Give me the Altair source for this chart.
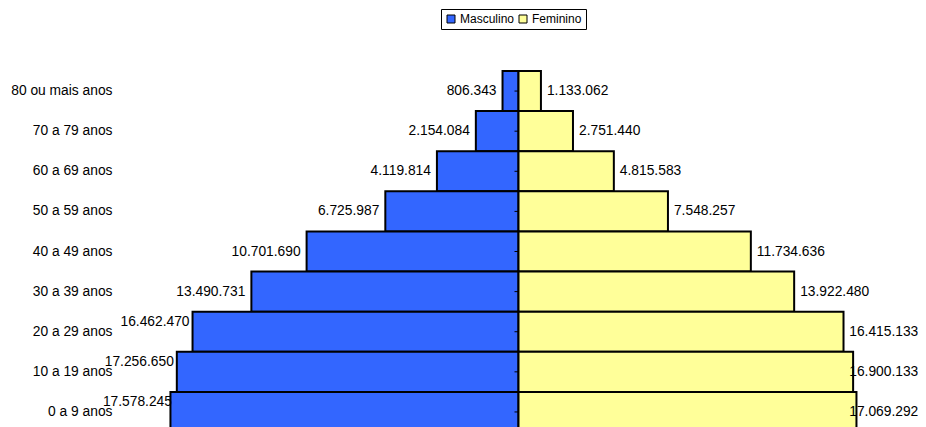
import altair as alt
import pandas as pd

categorias = ["80 ou mais anos", "70 a 79 anos", "60 a 69 anos", "50 a 59 anos",
              "40 a 49 anos", "30 a 39 anos", "20 a 29 anos", "10 a 19 anos", "0 a 9 anos"]
masculino = [806343, 2154084, 4119814, 6725987, 10701690, 13490731, 16462470, 17256650, 17578245]
feminino = [1133062, 2751440, 4815583, 7548257, 11734636, 13922480, 16415133, 16900133, 17069292]
series = ["Masculino", "Feminino"]
cores = ["#3366FF", "#FFFF99"]

FONT = "Liberation Sans"
FS = 13.8


def fmt(v):
    return f"{v:,}".replace(",", ".")


rows = []
for c, m, f in zip(categorias, masculino, feminino):
    rows.append({"faixa": c, "sexo": series[0], "valor": -m, "rotulo": fmt(m)})
    rows.append({"faixa": c, "sexo": series[1], "valor": f, "rotulo": fmt(f)})
df = pd.DataFrame(rows)

y_axis = alt.Axis(title=None, domain=False, ticks=False, tickSize=0, labelPadding=8,
                  grid=False, labelFont=FONT, labelFontSize=FS, labelColor="black")
y_scale = alt.Scale(paddingInner=0, paddingOuter=0)


def y_enc():
    return alt.Y("faixa:N", sort=categorias, scale=y_scale, axis=y_axis)


x_scale = alt.Scale(domain=[-20.126e6, 20.177e6], nice=False, zero=False)

base = alt.Chart()

bars = base.mark_bar(stroke="black", strokeWidth=2).encode(
    y=y_enc(),
    x=alt.X("valor:Q", scale=x_scale, axis=None, stack=None),
    color=alt.Color(
        "sexo:N",
        scale=alt.Scale(domain=series, range=cores),
        legend=alt.Legend(
            orient="none", legendX=321, legendY=-62, direction="horizontal", title=None,
            strokeColor="black", fillColor="white", padding=4, cornerRadius=0,
            symbolType="square", symbolSize=64, symbolStrokeColor="black",
            symbolStrokeWidth=1, symbolOpacity=1,
            labelFont=FONT, labelFontSize=12, labelColor="black",
            labelOffset=3, columnPadding=2,
        ),
    ),
)

ticks = base.mark_tick(orient="horizontal", size=4, thickness=1, color="black",
                       xOffset=-2, opacity=1).encode(
    y=y_enc(),
    x=alt.X(datum=0, axis=None),
).transform_filter(alt.datum.sexo == series[0])

text_style = dict(font=FONT, fontSize=FS, color="black", baseline="middle")

male_small = base.mark_text(align="right", dx=-6, **text_style).encode(
    y=y_enc(),
    x=alt.X("pos:Q", axis=None),
    text="rotulo:N",
).transform_filter(
    (alt.datum.sexo == series[0]) & (alt.datum.valor > -16e6)
).transform_calculate(pos="max(datum.valor, -17.35e6)")

male_big = base.mark_text(align="right", dx=-3, dy=-10, **text_style).encode(
    y=y_enc(),
    x=alt.X("pos:Q", axis=None),
    text="rotulo:N",
).transform_filter(
    (alt.datum.sexo == series[0]) & (alt.datum.valor <= -16e6)
).transform_calculate(pos="max(datum.valor, -17.35e6)")

female = base.mark_text(align="left", dx=6, **text_style).encode(
    y=y_enc(),
    x=alt.X("pos:Q", axis=None),
    text="rotulo:N",
).transform_filter(alt.datum.sexo == series[1]).transform_calculate(
    pos="min(datum.valor, 16.4e6)"
)

chart = alt.layer(bars, ticks, male_small, male_big, female, data=df).properties(
    width=798, height=361,
    autosize=alt.AutoSizeParams(type="none"),
    padding={"left": 112, "top": 63, "right": 0, "bottom": 0},
).configure(font=FONT).configure_view(strokeWidth=0, stroke="transparent")

chart.save("out.html", embed_options={"renderer": "svg", "actions": False})
